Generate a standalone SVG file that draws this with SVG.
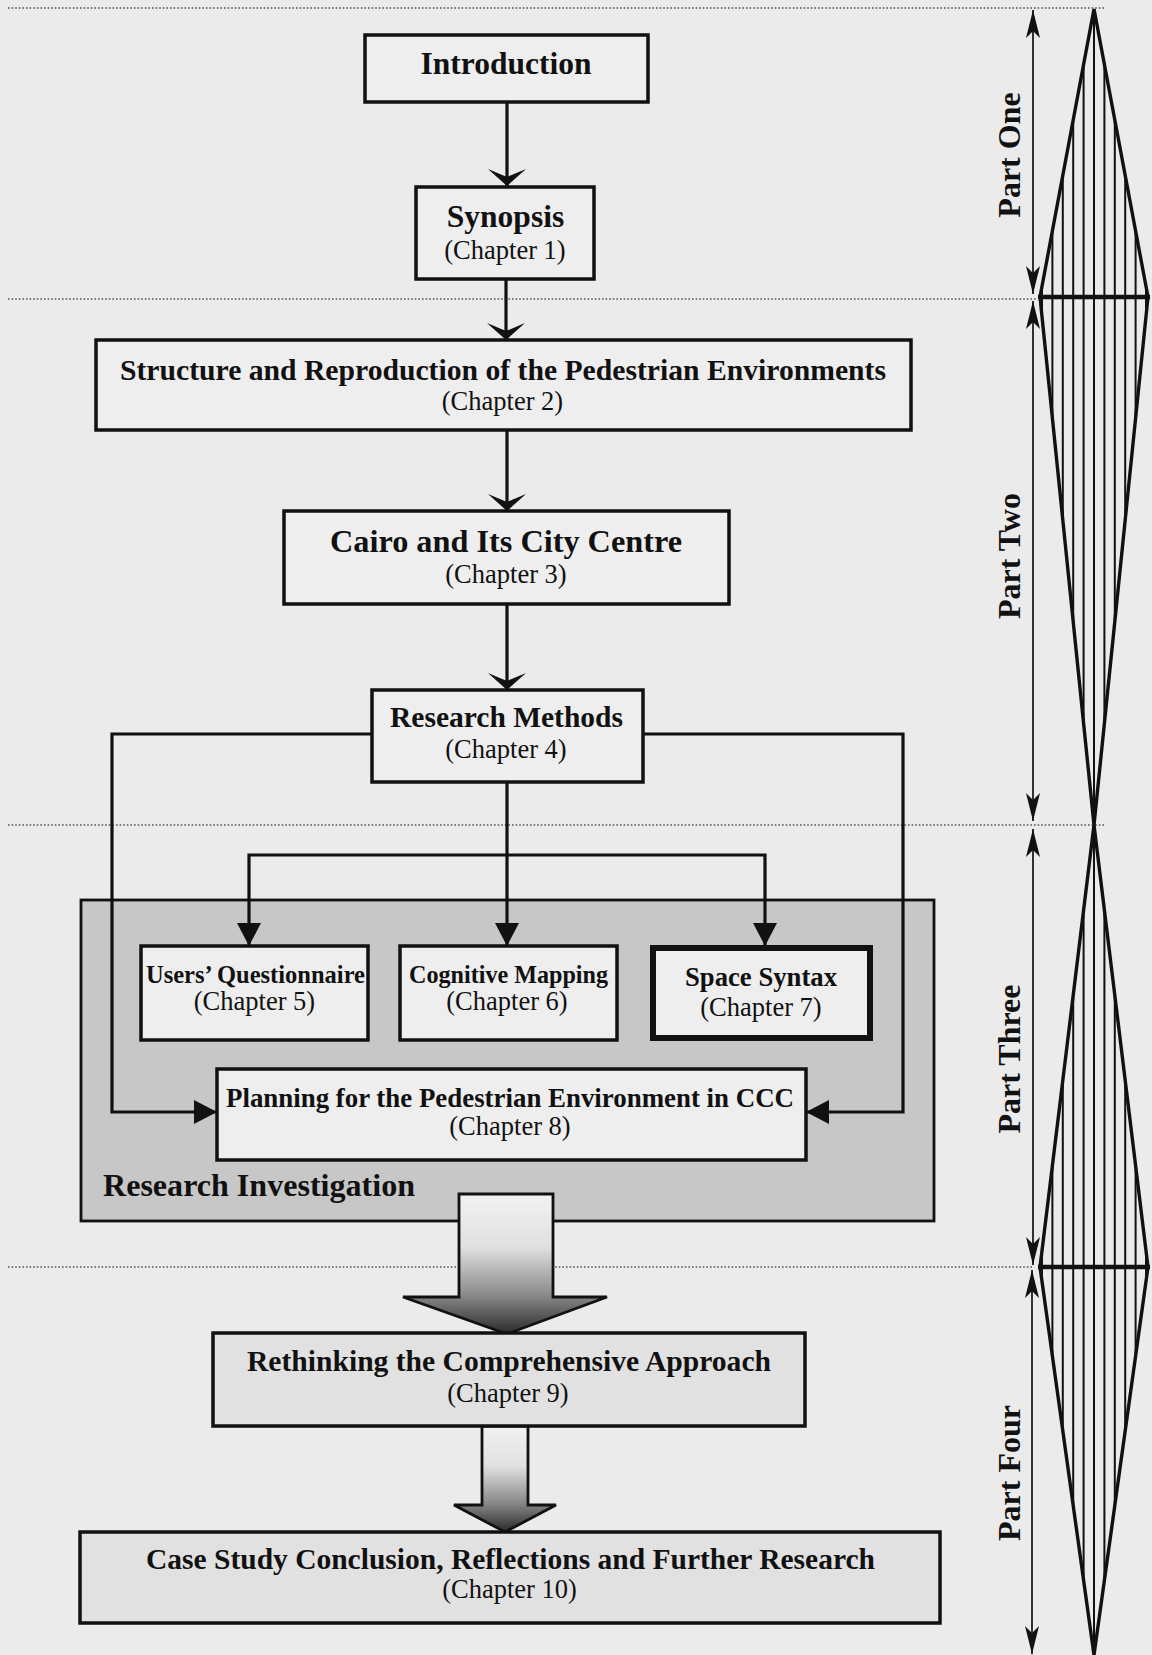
<svg xmlns="http://www.w3.org/2000/svg" width="1152" height="1655" viewBox="0 0 1152 1655">
  <defs>
    <style>
      .box { fill: #eeeeee; stroke: #111; stroke-width: 3.5; }
      .box-heavy { fill: #eeeeee; stroke: #111; stroke-width: 6; }
      .box-dark { fill: #e1e1e1; stroke: #111; stroke-width: 3.5; }
      .title { font-family: "Liberation Serif", "Times New Roman", serif; font-weight: bold; fill: #111; text-anchor: middle; }
      .chap { font-family: "Liberation Serif", "Times New Roman", serif; font-size: 26.5px; fill: #111; text-anchor: middle; }
      .part { font-family: "Liberation Serif", "Times New Roman", serif; font-weight: bold; font-size: 32px; fill: #111; text-anchor: middle; }
      .conn { fill: none; stroke: #111; stroke-width: 3.2; stroke-linejoin: miter; }
      .divider { stroke: #555; stroke-width: 1.4; stroke-dasharray: 1.6 2; fill: none; }
      .dim { stroke: #111; stroke-width: 1.7; fill: none; }
      .hatch { stroke: #111; stroke-width: 2; }
      .tri { fill: none; stroke: #111; stroke-width: 3.4; stroke-linejoin: miter; }
    </style>
    <!-- chevron arrowhead for the upper chain -->
    <marker id="chev" markerUnits="userSpaceOnUse" markerWidth="40" markerHeight="40" refX="0" refY="0" orient="auto" overflow="visible">
      <path d="M0,0 L-17,-19 L-9,0 L-17,19 Z" fill="#111"/>
    </marker>
    <!-- solid triangle arrowhead -->
    <marker id="tri" markerUnits="userSpaceOnUse" markerWidth="40" markerHeight="40" refX="0" refY="0" orient="auto" overflow="visible">
      <path d="M0,0 L-23,-12 L-23,12 Z" fill="#111"/>
    </marker>
    <!-- slim arrowhead for the part extents -->
    <marker id="dimhead" markerUnits="userSpaceOnUse" markerWidth="40" markerHeight="40" refX="0" refY="0" orient="auto-start-reverse" overflow="visible">
      <path d="M0,0 L-28,-7 L-21,0 L-28,7 Z" fill="#111"/>
    </marker>
    <linearGradient id="flow" x1="0" y1="0" x2="0" y2="1">
      <stop offset="0" stop-color="#f2f2f2"/>
      <stop offset="0.38" stop-color="#e0e0e0"/>
      <stop offset="0.72" stop-color="#8a8a8a"/>
      <stop offset="1" stop-color="#2a2a2a"/>
    </linearGradient>
    <clipPath id="bands">
      <polygon points="1094,9 1148,297 1040,297"/>
      <polygon points="1040,297 1148,297 1094,825"/>
      <polygon points="1094,825 1148,1267 1040,1267"/>
      <polygon points="1040,1267 1148,1267 1094,1655"/>
    </clipPath>
  </defs>

  <rect x="0" y="0" width="1152" height="1655" fill="#ebebeb"/>

  <!-- part dividers -->
  <g id="dividers">
    <line class="divider" x1="8" y1="8" x2="1105" y2="8"/>
    <line class="divider" x1="8" y1="299" x2="1036" y2="299"/>
    <line class="divider" x1="8" y1="825" x2="1105" y2="825"/>
    <line class="divider" x1="8" y1="1267" x2="1034" y2="1267"/>
  </g>

  <!-- part extents with hatched bands -->
  <g id="part-scale">
    <g clip-path="url(#bands)">
      <line class="hatch" x1="1042" y1="0" x2="1042" y2="1655"/>
      <line class="hatch" x1="1052.4" y1="0" x2="1052.4" y2="1655"/>
      <line class="hatch" x1="1062.8" y1="0" x2="1062.8" y2="1655"/>
      <line class="hatch" x1="1073.2" y1="0" x2="1073.2" y2="1655"/>
      <line class="hatch" x1="1083.6" y1="0" x2="1083.6" y2="1655"/>
      <line class="hatch" x1="1094" y1="0" x2="1094" y2="1655"/>
      <line class="hatch" x1="1104.4" y1="0" x2="1104.4" y2="1655"/>
      <line class="hatch" x1="1114.8" y1="0" x2="1114.8" y2="1655"/>
      <line class="hatch" x1="1125.2" y1="0" x2="1125.2" y2="1655"/>
      <line class="hatch" x1="1135.6" y1="0" x2="1135.6" y2="1655"/>
      <line class="hatch" x1="1146" y1="0" x2="1146" y2="1655"/>
    </g>
    <polygon class="tri" points="1094,9 1148,297 1040,297"/>
    <polygon class="tri" points="1040,297 1148,297 1094,825"/>
    <polygon class="tri" points="1094,825 1148,1267 1040,1267"/>
    <polygon class="tri" points="1040,1267 1148,1267 1094,1655"/>
    <line x1="1038" y1="297" x2="1150" y2="297" stroke="#111" stroke-width="4.5"/>
    <line x1="1038" y1="1267" x2="1150" y2="1267" stroke="#111" stroke-width="4.5"/>

    <line class="dim" x1="1033" y1="10" x2="1033" y2="294" marker-start="url(#dimhead)" marker-end="url(#dimhead)"/>
    <line class="dim" x1="1033" y1="301" x2="1033" y2="821" marker-start="url(#dimhead)" marker-end="url(#dimhead)"/>
    <line class="dim" x1="1033" y1="829" x2="1033" y2="1265" marker-start="url(#dimhead)" marker-end="url(#dimhead)"/>
    <line class="dim" x1="1032" y1="1270" x2="1032" y2="1654" marker-start="url(#dimhead)" marker-end="url(#dimhead)"/>

    <text class="part" transform="translate(1020,155) rotate(-90)">Part One</text>
    <text class="part" transform="translate(1020,556) rotate(-90)">Part Two</text>
    <text class="part" transform="translate(1020,1059) rotate(-90)">Part Three</text>
    <text class="part" transform="translate(1020,1473) rotate(-90)">Part Four</text>
  </g>

  <!-- research investigation container -->
  <g id="research-investigation">
    <rect x="81" y="900" width="853" height="321" fill="#c7c7c7" stroke="#111" stroke-width="2.8"/>
    <text class="title" x="103" y="1196" font-size="32" style="text-anchor:start" textLength="312" lengthAdjust="spacingAndGlyphs">Research Investigation</text>
  </g>

  <!-- connectors -->
  <g id="connectors">
    <path class="conn" d="M507,102 V186" marker-end="url(#chev)"/>
    <path class="conn" d="M506,280 V340" marker-end="url(#chev)"/>
    <path class="conn" d="M507,430 V511" marker-end="url(#chev)"/>
    <path class="conn" d="M507,604 V690" marker-end="url(#chev)"/>
    <path class="conn" d="M507,782 V946" marker-end="url(#tri)"/>
    <path class="conn" d="M507,855 H249 V946" marker-end="url(#tri)"/>
    <path class="conn" d="M507,855 H765 V946" marker-end="url(#tri)"/>
    <path class="conn" d="M372,734 H112 V1112 H217" marker-end="url(#tri)"/>
    <path class="conn" d="M643,734 H903 V1112 H806" marker-end="url(#tri)"/>
    <path d="M459,1194 H553 V1297 H607 L507,1334 L403,1297 H459 Z" fill="url(#flow)" stroke="#111" stroke-width="2.8" stroke-linejoin="miter"/>
    <path d="M482,1426 H528 V1505 H556 L505,1532 L454,1505 H482 Z" fill="url(#flow)" stroke="#111" stroke-width="2.8" stroke-linejoin="miter"/>
  </g>

  <g id="introduction">
    <rect class="box" x="365" y="35" width="283" height="67"/>
    <text class="title" x="506" y="74" font-size="31.5">Introduction</text>
  </g>

  <g id="synopsis">
    <rect class="box" x="416" y="187" width="178" height="92"/>
    <text class="title" x="505.5" y="227" font-size="31.5">Synopsis</text>
    <text class="chap" x="505" y="259">(Chapter 1)</text>
  </g>

  <g id="structure">
    <rect class="box" x="96" y="340" width="815" height="90"/>
    <text class="title" x="503" y="380" font-size="29" textLength="766" lengthAdjust="spacingAndGlyphs">Structure and Reproduction of the Pedestrian Environments</text>
    <text class="chap" x="502.5" y="410">(Chapter 2)</text>
  </g>

  <g id="cairo">
    <rect class="box" x="284" y="511" width="445" height="93"/>
    <text class="title" x="506" y="552" font-size="32" textLength="352" lengthAdjust="spacingAndGlyphs">Cairo and Its City Centre</text>
    <text class="chap" x="506" y="583">(Chapter 3)</text>
  </g>

  <g id="research-methods">
    <rect class="box" x="372" y="690" width="271" height="92"/>
    <text class="title" x="506.5" y="727" font-size="29.5" textLength="233" lengthAdjust="spacingAndGlyphs">Research Methods</text>
    <text class="chap" x="506" y="758">(Chapter 4)</text>
  </g>

  <g id="users-questionnaire">
    <rect class="box" x="141" y="946" width="227" height="94"/>
    <text class="title" x="255.5" y="983" font-size="25" textLength="219" lengthAdjust="spacingAndGlyphs">Users’ Questionnaire</text>
    <text class="chap" x="254.5" y="1010">(Chapter 5)</text>
  </g>

  <g id="cognitive-mapping">
    <rect class="box" x="400" y="946" width="217" height="94"/>
    <text class="title" x="508.5" y="983" font-size="25" textLength="199" lengthAdjust="spacingAndGlyphs">Cognitive Mapping</text>
    <text class="chap" x="507" y="1010">(Chapter 6)</text>
  </g>

  <g id="space-syntax">
    <rect class="box-heavy" x="653" y="948" width="217" height="90"/>
    <text class="title" x="761" y="986" font-size="26.5" textLength="152" lengthAdjust="spacingAndGlyphs">Space Syntax</text>
    <text class="chap" x="761" y="1016">(Chapter 7)</text>
  </g>

  <g id="planning">
    <rect class="box" x="217" y="1069" width="589" height="91"/>
    <text class="title" x="510" y="1107" font-size="27.5" textLength="568" lengthAdjust="spacingAndGlyphs">Planning for the Pedestrian Environment in CCC</text>
    <text class="chap" x="510" y="1135">(Chapter 8)</text>
  </g>

  <g id="rethinking">
    <rect class="box-dark" x="213" y="1333" width="592" height="93"/>
    <text class="title" x="509" y="1371" font-size="29.4" textLength="524" lengthAdjust="spacingAndGlyphs">Rethinking the Comprehensive Approach</text>
    <text class="chap" x="508" y="1402">(Chapter 9)</text>
  </g>

  <g id="case-study">
    <rect class="box-dark" x="80" y="1532" width="860" height="91"/>
    <text class="title" x="510.5" y="1569" font-size="29.5" textLength="729" lengthAdjust="spacingAndGlyphs">Case Study Conclusion, Reflections and Further Research</text>
    <text class="chap" x="509.5" y="1598">(Chapter 10)</text>
  </g>
</svg>
